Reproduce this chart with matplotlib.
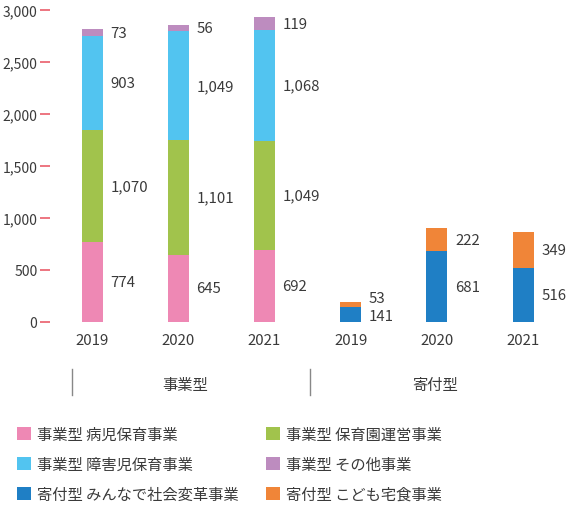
import matplotlib
matplotlib.use("Agg")
import matplotlib.pyplot as plt
from matplotlib.patches import Patch
from matplotlib.lines import Line2D
import numpy as np

plt.rcParams['font.family'] = ['Noto Sans CJK JP', 'DejaVu Sans']

years = ["2019", "2020", "2021", "2019", "2020", "2021"]
groups = ["事業型", "寄付型"]

# business-type series (first three bars)
sick_child = [774, 645, 692]
nursery = [1070, 1101, 1049]
disabled_child = [903, 1049, 1068]
other = [73, 56, 119]
# donation-type series (last three bars)
social_change = [141, 681, 516]
kodomo_takushoku = [53, 222, 349]

series_labels = ["事業型 病児保育事業", "事業型 保育園運営事業", "事業型 障害児保育事業",
                 "事業型 その他事業", "寄付型 みんなで社会変革事業", "寄付型 こども宅食事業"]
colors = ["#EE88B4", "#A1C34C", "#52C4F0", "#BD8CBF", "#1F7FC5", "#F08538"]

yticks = [0, 500, 1000, 1500, 2000, 2500, 3000]
ytick_labels = ["0", "500", "1,000", "1,500", "2,000", "2,500", "3,000"]

fig = plt.figure(figsize=(5.8, 5.1), dpi=100)
W, H = 580, 510
ax = fig.add_axes([50 / W, 1 - 323 / H, 510 / W, 312 / H])

step = 86.2
x0 = 92
xl = (50 - x0) / step
xr = (560 - x0) / step
ax.set_xlim(xl, xr)
ax.set_ylim(0, 3000)

bw = 21 / step
text_color = "#3a3a3a"
fs_val = 10.8
fs_tick = 10

def stack(xs, series_list, cols, offsets=None):
    bottom = np.zeros(len(xs))
    for k, (vals, c) in enumerate(zip(series_list, cols)):
        vals = np.array(vals, dtype=float)
        ax.bar(xs, vals, bw, bottom=bottom, color=c, edgecolor='none', zorder=2)
        for i, (xx, v, b) in enumerate(zip(xs, vals, bottom)):
            dy = 0
            if offsets is not None:
                dy = offsets[k][i]
            ax.annotate(f"{int(v):,}", (xx + bw / 2, b + v / 2), xytext=(5.5, dy),
                        textcoords='offset points', va='center', ha='left',
                        fontsize=fs_val, color=text_color)
        bottom = bottom + vals

xs_b = np.arange(3)
xs_d = np.arange(3, 6)
stack(xs_b, [sick_child, nursery, disabled_child, other], colors[:4])
stack(xs_d, [social_change, kodomo_takushoku], colors[4:],
      offsets=[[-1, 0, 0], [5, 0, 0]])

for s in ax.spines.values():
    s.set_visible(False)
ax.set_yticks(yticks)
ax.set_yticklabels(ytick_labels)
ax.tick_params(axis='y', colors="#E8505E", length=7, width=1.1, pad=2,
               labelsize=fs_tick, labelcolor=text_color)
ax.set_xticks(range(6))
ax.set_xticklabels(years)
ax.tick_params(axis='x', length=0, pad=8, labelsize=fs_val, labelcolor=text_color)

# group brackets
for px in [72, 310]:
    fig.add_artist(Line2D([px / W, px / W], [1 - 370 / H, 1 - 396 / H],
                          color="#888888", lw=1.0))
fig.text(185 / W, 1 - 386 / H, groups[0], ha='center', va='center',
         fontsize=11, color=text_color)
fig.text(435 / W, 1 - 386 / H, groups[1], ha='center', va='center',
         fontsize=11, color=text_color)

order = [0, 2, 4, 1, 3, 5]
handles = [Patch(facecolor=colors[i], edgecolor='none') for i in order]
labels = [series_labels[i] for i in order]
fig.legend(handles, labels, ncol=2, loc='upper left',
           bbox_to_anchor=(12 / W, 1 - 422 / H), frameon=False,
           fontsize=11, handlelength=0.95, handleheight=0.95,
           handletextpad=0.4, labelspacing=0.85, columnspacing=1.75,
           labelcolor=text_color, borderaxespad=0, borderpad=0.3)

fig.savefig("out.png", dpi=100)
